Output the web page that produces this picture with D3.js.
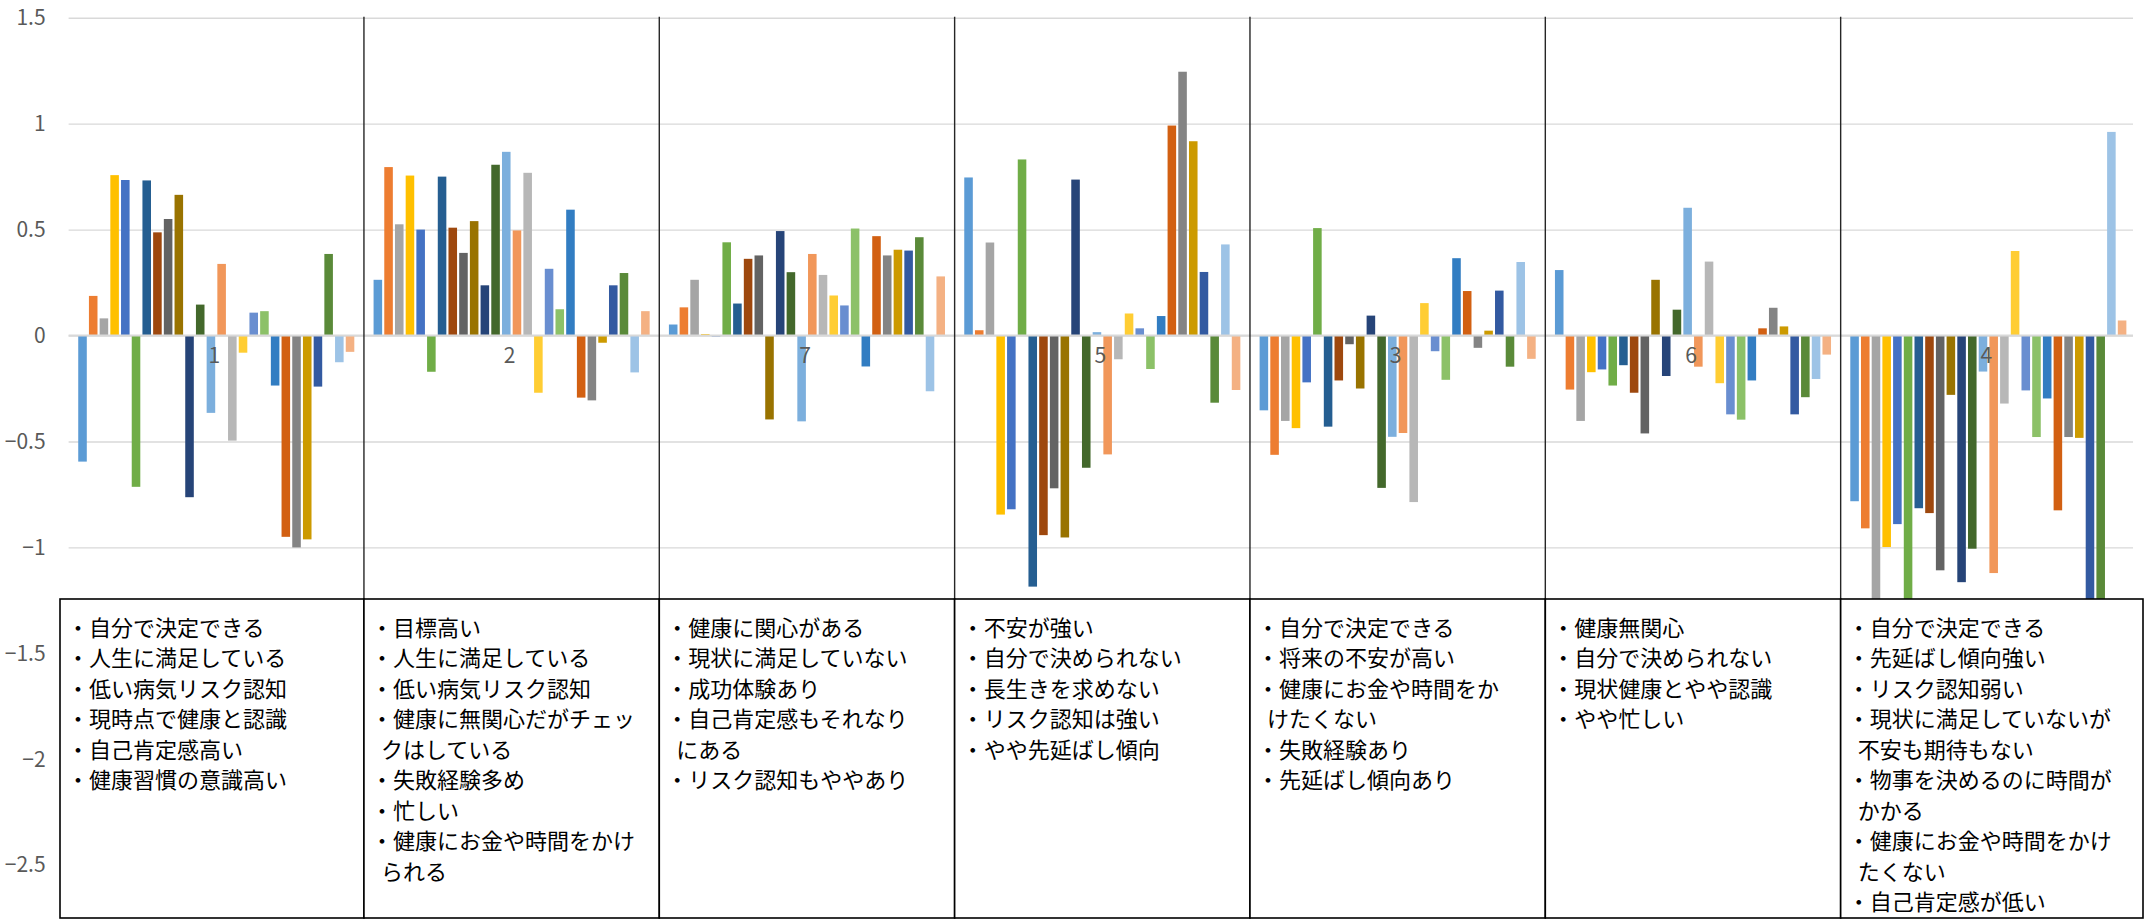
<!DOCTYPE html>
<html lang="ja">
<head>
<meta charset="utf-8">
<script src="https://cdn.jsdelivr.net/npm/d3@7/dist/d3.min.js"></script>
<style>
  html, body { margin: 0; padding: 0; background: #fff; }
  svg { display: block; }
</style>
</head>
<body>
<svg id="chart" width="2147" height="920"></svg>
<script>
// Cluster labels along the category axis
const categories = ["1", "2", "7", "5", "3", "6", "4"];

// Twenty-six series per cluster (standard spreadsheet palette order)
const seriesColors = [
  "#5B9BD5", "#ED7D31", "#A5A5A5", "#FFC000", "#4472C4", "#70AD47",
  "#255E91", "#9E480E", "#636363", "#997300", "#264478", "#43682B",
  "#7CAFDD", "#F1975A", "#B7B7B7", "#FFCD33", "#698ED0", "#8CC168",
  "#327DC2", "#D26012", "#848484", "#CC9A00", "#335AA1", "#5A8A39",
  "#9DC3E6", "#F4B183"
];

// Standardised scores of each cluster, one value per series
const cluster1 = [-0.595, 0.187, 0.081, 0.757, 0.734, -0.714, 0.732, 0.487, 0.55, 0.664, -0.763, 0.146, -0.365,
                  0.338, -0.496, -0.081, 0.108, 0.115, -0.236, -0.95, -1.0, -0.962, -0.241, 0.385, -0.126, -0.077];
const cluster2 = [0.263, 0.795, 0.525, 0.755, 0.5, -0.171, 0.75, 0.509, 0.39, 0.54, 0.237, 0.806, 0.867,
                  0.496, 0.768, -0.27, 0.315, 0.124, 0.594, -0.293, -0.306, -0.034, 0.237, 0.295, -0.174, 0.115];
const cluster7 = [0.052, 0.133, 0.263, 0.007, -0.004, 0.44, 0.151, 0.362, 0.378, -0.396, 0.493, 0.299, -0.405,
                  0.385, 0.286, 0.189, 0.142, 0.505, -0.146, 0.469, 0.378, 0.405, 0.401, 0.464, -0.263, 0.279];
const cluster5 = [0.746, 0.025, 0.439, -0.845, -0.82, 0.831, -1.185, -0.942, -0.721, -0.953, 0.736, -0.624, 0.016,
                  -0.561, -0.112, 0.104, 0.034, -0.158, 0.092, 0.991, 1.245, 0.917, 0.3, -0.317, 0.43, -0.257];
const cluster3 = [-0.353, -0.563, -0.403, -0.437, -0.221, 0.507, -0.43, -0.212, -0.041, -0.25, 0.094, -0.719, -0.478,
                  -0.46, -0.786, 0.153, -0.074, -0.209, 0.365, 0.21, -0.058, 0.023, 0.212, -0.147, 0.347, -0.11];
const cluster6 = [0.309, -0.255, -0.403, -0.173, -0.16, -0.236, -0.14, -0.27, -0.462, 0.263, -0.191, 0.122, 0.603,
                  -0.147, 0.349, -0.225, -0.372, -0.397, -0.212, 0.034, 0.131, 0.043, -0.372, -0.291, -0.205, -0.09];
const cluster4 = [-0.782, -0.91, -1.45, -0.998, -0.89, -1.6, -0.815, -0.838, -1.108, -0.28, -1.164, -1.006, -0.17,
                  -1.121, -0.321, 0.399, -0.259, -0.479, -0.297, -0.825, -0.479, -0.483, -1.35, -1.5, 0.961, 0.071];
const clusterValues = [cluster1, cluster2, cluster7, cluster5, cluster3, cluster6, cluster4];

// Value axis ticks
const yTicks = [1.5, 1, 0.5, 0, -0.5, -1, -1.5, -2, -2.5];

// Profile notes printed under each cluster
const notes1 = ["・自分で決定できる", "・人生に満足している", "・低い病気リスク認知", "・現時点で健康と認識",
                "・自己肯定感高い", "・健康習慣の意識高い"];
const notes2 = ["・目標高い", "・人生に満足している", "・低い病気リスク認知", "・健康に無関心だがチェッ",
                "クはしている", "・失敗経験多め", "・忙しい", "・健康にお金や時間をかけ", "られる"];
const notes7 = ["・健康に関心がある", "・現状に満足していない", "・成功体験あり", "・自己肯定感もそれなり",
                "にある", "・リスク認知もややあり"];
const notes5 = ["・不安が強い", "・自分で決められない", "・長生きを求めない", "・リスク認知は強い", "・やや先延ばし傾向"];
const notes3 = ["・自分で決定できる", "・将来の不安が高い", "・健康にお金や時間をか", "けたくない",
                "・失敗経験あり", "・先延ばし傾向あり"];
const notes6 = ["・健康無関心", "・自分で決められない", "・現状健康とやや認識", "・やや忙しい"];
const notes4 = ["・自分で決定できる", "・先延ばし傾向強い", "・リスク認知弱い", "・現状に満足していないが",
                "不安も期待もない", "・物事を決めるのに時間が", "かかる", "・健康にお金や時間をかけ",
                "たくない", "・自己肯定感が低い"];
const clusterNotes = [notes1, notes2, notes7, notes5, notes3, notes6, notes4];

const svg = d3.select("#chart");
const W = 2147, H = 920;
svg.append("rect").attr("width", W).attr("height", H).attr("fill", "#fff");

const plot = { left: 68.6, right: 2136, top: 17.7 };
const y = d3.scaleLinear().domain([-3, 1.5]).range([335.5 + 3 * 211.9, plot.top]);
const x = d3.scaleBand().domain(categories).range([plot.left, plot.right]).padding(0);
const xs = d3.scaleBand().domain(d3.range(seriesColors.length))
  .range([0, x.bandwidth()]).paddingInner(0.2).paddingOuter(0.9);

const labelFont = "'Noto Sans CJK JP', 'Noto Sans', sans-serif";

// Horizontal gridlines with tick labels
const yAxis = svg.append("g")
  .attr("transform", `translate(${plot.left},0)`)
  .call(d3.axisLeft(y).tickValues(yTicks).tickFormat(d3.format("")).tickSize(-(plot.right - 3 - plot.left)).tickPadding(23));
yAxis.select(".domain").remove();
yAxis.selectAll(".tick line").attr("stroke", "#D9D9D9").attr("stroke-width", 1.4);
yAxis.selectAll(".tick text")
  .attr("fill", "#595959")
  .style("font-family", labelFont)
  .style("font-size", "21px");

// Bars
const groups = svg.append("g").selectAll("g")
  .data(categories)
  .join("g")
  .attr("transform", c => `translate(${x(c)},0)`);

groups.selectAll("rect")
  .data((c, i) => clusterValues[i].map((v, s) => ({ v, s })))
  .join("rect")
  .attr("x", d => xs(d.s))
  .attr("width", xs.bandwidth())
  .attr("y", d => y(Math.max(0, d.v)))
  .attr("height", d => Math.abs(y(d.v) - y(0)))
  .attr("fill", d => seriesColors[d.s]);

// Zero axis line drawn over the bars
svg.append("line")
  .attr("x1", plot.left).attr("x2", plot.right - 3)
  .attr("y1", y(0)).attr("y2", y(0))
  .attr("stroke", "#D9D9D9").attr("stroke-width", 2);

// Category labels just under the zero line
svg.append("g").selectAll("text")
  .data(categories)
  .join("text")
  .attr("x", c => x(c) + x.bandwidth() / 2 - 2)
  .attr("y", y(0) + 27)
  .attr("text-anchor", "middle")
  .attr("fill", "#595959")
  .style("font-family", labelFont)
  .style("font-size", "21px")
  .text(c => c);

// Note boxes and the dividers between clusters
const boxTop = 599, boxBottom = 918;
const dividers = categories.slice(1).map(c => x(c));
svg.append("g").selectAll("line")
  .data(dividers)
  .join("line")
  .attr("x1", d => d).attr("x2", d => d)
  .attr("y1", plot.top - 1).attr("y2", boxTop)
  .attr("stroke", "#262626").attr("stroke-width", 1.4);

const boxLeft = (c, i) => i === 0 ? x(c) - 8.6 : x(c);
const boxRight = (c, i) => i === categories.length - 1 ? x(c) + x.bandwidth() + 7 : x(c) + x.bandwidth();

const boxes = svg.append("g").selectAll("g")
  .data(categories)
  .join("g");

boxes.append("rect")
  .attr("x", boxLeft)
  .attr("y", boxTop)
  .attr("width", (c, i) => boxRight(c, i) - boxLeft(c, i))
  .attr("height", boxBottom - boxTop)
  .attr("fill", "#fff")
  .attr("stroke", "#000")
  .attr("stroke-width", 1.6);

// One text element per note line; bullet lines sit slightly further left
boxes.each(function (c, i) {
  const left = boxLeft(c, i);
  d3.select(this).selectAll("text")
    .data(clusterNotes[i])
    .join("text")
    .attr("x", line => line.startsWith("・") ? left + 7 : left + 17)
    .attr("y", (line, k) => 635.5 + k * 30.5)
    .attr("fill", "#000")
    .style("font-family", labelFont)
    .style("font-size", "22px")
    .text(line => line);
});
</script>
</body>
</html>
